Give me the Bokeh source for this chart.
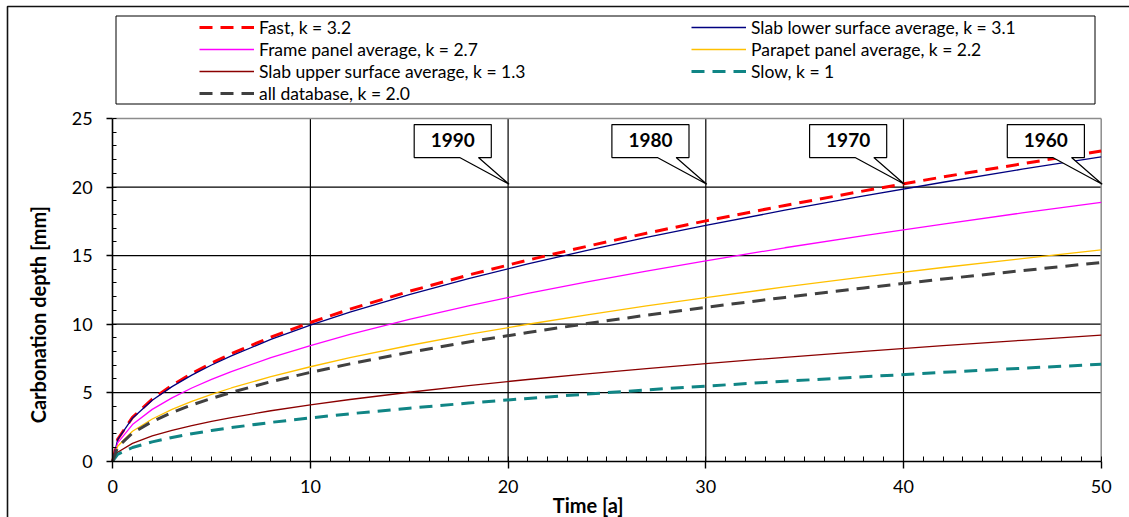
import math
from bokeh.plotting import figure
from bokeh.models import (Range1d, FixedTicker, Legend, LegendItem, BoxAnnotation, Label)
from bokeh.core.properties import value
from bokeh.embed import file_html
from bokeh.resources import INLINE

# ---------------- data ----------------
time_a = [0, 0.25, 1, 2, 3, 4, 5, 6, 8, 10, 12, 15, 18, 21, 24, 27, 30, 34, 38, 42, 46, 50]

fast = [0, 1.6, 3.2, 4.53, 5.54, 6.4, 7.16, 7.84, 9.05, 10.12, 11.09, 12.39, 13.58, 14.67,
        15.68, 16.63, 17.53, 18.66, 19.72, 20.74, 21.70, 22.63]
slab_lower = [0, 1.57, 3.14, 4.44, 5.44, 6.28, 7.02, 7.69, 8.88, 9.93, 10.88, 12.16, 13.32,
              14.39, 15.38, 16.32, 17.2, 18.31, 19.35, 20.35, 21.3, 22.2]
frame_panel = [0, 1.34, 2.67, 3.78, 4.62, 5.34, 5.97, 6.54, 7.55, 8.44, 9.25, 10.34, 11.33,
               12.24, 13.08, 13.87, 14.62, 15.57, 16.46, 17.3, 18.11, 18.88]
parapet_panel = [0, 1.09, 2.18, 3.08, 3.78, 4.36, 4.87, 5.34, 6.17, 6.89, 7.55, 8.44, 9.25,
                 9.99, 10.68, 11.33, 11.94, 12.71, 13.44, 14.13, 14.78, 15.41]
slab_upper = [0, 0.65, 1.3, 1.84, 2.25, 2.6, 2.91, 3.18, 3.68, 4.11, 4.5, 5.03, 5.52, 5.96,
              6.37, 6.75, 7.12, 7.58, 8.01, 8.43, 8.82, 9.19]
slow = [0, 0.5, 1.0, 1.41, 1.73, 2.0, 2.24, 2.45, 2.83, 3.16, 3.46, 3.87, 4.24, 4.58, 4.9,
        5.2, 5.48, 5.83, 6.16, 6.48, 6.78, 7.07]
all_database = [0, 1.03, 2.05, 2.9, 3.55, 4.1, 4.58, 5.02, 5.8, 6.48, 7.1, 7.94, 8.7, 9.39,
                10.04, 10.65, 11.23, 11.95, 12.64, 13.29, 13.9, 14.5]

series_labels = ["Fast, k = 3.2", "Slab lower surface average, k = 3.1",
                 "Frame panel average, k = 2.7", "Parapet panel average, k = 2.2",
                 "Slab upper surface average, k = 1.3", "Slow, k = 1",
                 "all database, k = 2.0"]

callout_years = ["1990", "1980", "1970", "1960"]
callout_time = [20, 30, 40, 50]
callout_depth = [20, 20, 20, 20]

x_ticks = [0, 10, 20, 30, 40, 50]
y_ticks = [0, 5, 10, 15, 20, 25]
x_label = "Time [a]"
y_label = "Carbonation depth [mm]"

# ---------------- figure: frame covers the whole canvas ----------------
FONT = "Lato"
W, H = 1129, 517
PX_X0, PX_X50 = 112.2, 1100.7      # pixel position of t = 0 and t = 50
PX_Y0, PX_Y25 = 460.7, 118.0       # pixel position of depth = 0 and 25
sx = (PX_X50 - PX_X0) / 50.0
sy = (PX_Y0 - PX_Y25) / 25.0
x_start = -PX_X0 / sx
y_start = -(H - PX_Y0) / sy

p = figure(width=W, height=H, output_backend="svg", toolbar_location=None, title=None,
           x_range=Range1d(x_start, x_start + W / sx), y_range=Range1d(y_start, y_start + H / sy),
           min_border_left=0, min_border_right=0, min_border_top=0, min_border_bottom=0)
p.background_fill_color = "white"
p.border_fill_color = "white"
p.outline_line_color = None
p.xgrid.visible = False
p.ygrid.visible = False

p.xaxis.fixed_location = 0
p.yaxis.fixed_location = 0
p.xaxis.bounds = (x_ticks[0], x_ticks[-1])
p.yaxis.bounds = (y_ticks[0], y_ticks[-1])
p.xaxis.ticker = FixedTicker(ticks=x_ticks, minor_ticks=list(range(0, 51)))
p.yaxis.ticker = FixedTicker(ticks=y_ticks, minor_ticks=list(range(0, 26)))

# grid lines (inside the plotting area only) and the grey plot-area border
gx = x_ticks[1:-1]
gy = y_ticks[1:-1]
p.segment(x0=gx, y0=[y_ticks[0]] * len(gx), x1=gx, y1=[y_ticks[-1]] * len(gx),
          line_color="black", line_width=1.2)
p.segment(x0=[x_ticks[0]] * len(gy), y0=gy, x1=[x_ticks[-1]] * len(gy), y1=gy,
          line_color="black", line_width=1.2)
p.segment(x0=[x_ticks[0], x_ticks[-1]], y0=[y_ticks[-1], y_ticks[0]],
          x1=[x_ticks[-1], x_ticks[-1]], y1=[y_ticks[-1], y_ticks[-1]],
          line_color="#8c8c8c", line_width=1.5)

for ax in (p.xaxis, p.yaxis):
    ax.axis_line_color = "black"
    ax.axis_line_width = 1.6
    ax.major_tick_line_color = "black"
    ax.major_tick_line_width = 1.4
    ax.minor_tick_line_color = "black"
    ax.minor_tick_line_width = 1
    ax.major_tick_in = 0
    ax.minor_tick_out = 0
    ax.major_label_text_font = FONT
    ax.major_label_text_font_size = "18px"
    ax.major_label_text_color = "black"
p.xaxis.major_tick_out = 7
p.xaxis.minor_tick_in = 5
p.xaxis.major_label_standoff = 12
p.yaxis.major_tick_out = 6
p.yaxis.minor_tick_in = 4
p.yaxis.major_label_standoff = 14

# ---------------- curves ----------------
styles = [
    (fast, "#FF0000", 3, "13 8"),
    (slab_lower, "#000080", 1.3, "solid"),
    (frame_panel, "#FF00FF", 1.3, "solid"),
    (parapet_panel, "#FFC000", 1.3, "solid"),
    (slab_upper, "#8B0000", 1.3, "solid"),
    (slow, "#108585", 3, "13 8"),
    (all_database, "#404040", 3, "13 8"),
]
renderers = []
for ys, color, w, dash in styles:
    r = p.line(time_a, ys, line_color=color, line_width=w, line_dash=dash)
    renderers.append(r)

# ---------------- callouts ----------------
xs, ys_ = [], []
tx, ty = [], []
for t, d in zip(callout_time, callout_depth):
    tip_x, tip_y = t + 0.05, d + 0.2
    x0, x1 = t - 4.75, t - 0.85
    y0, y1 = 22.15, 24.56
    b0, b1 = t - 2.45, t - 1.5
    xs.append([x0, x1, x1, b1, tip_x, b0, x0])
    ys_.append([y1, y1, y0, y0, tip_y, y0, y0])
    tx.append((x0 + x1) / 2)
    ty.append((y0 + y1) / 2 + 0.05)
p.patches(xs, ys_, fill_color="white", line_color="black", line_width=1.2)
p.text(tx, ty, text=callout_years, text_font=value(FONT), text_font_style="bold",
       text_font_size="19px", text_align="center", text_baseline="middle", text_color="black")

# ---------------- axis titles ----------------
p.add_layout(Label(x=-3.78, y=10.69, text=y_label, angle=math.pi / 2,
                   text_font=FONT, text_font_style="bold", text_font_size="20px",
                   text_align="center", text_baseline="middle", text_color="black"))
p.add_layout(Label(x=24.05, y=-3.23, text=x_label,
                   text_font=FONT, text_font_style="bold", text_font_size="20px",
                   text_align="center", text_baseline="middle", text_color="black"))

# ---------------- legend ----------------
def make_legend(idx, loc):
    return Legend(items=[LegendItem(label=series_labels[i], renderers=[renderers[i]]) for i in idx],
                  location=loc, orientation="vertical", padding=0, margin=0, spacing=0,
                  glyph_width=55, glyph_height=22, label_height=22, label_standoff=5,
                  label_text_font=FONT, label_text_font_size="17.5px", label_text_color="black",
                  border_line_color=None, background_fill_alpha=0)

p.add_layout(make_legend([0, 2, 4, 6], (199, H - 104)))
p.add_layout(make_legend([1, 3, 5], (691, H - 82)))

p.add_layout(BoxAnnotation(left=115.5, right=1094.5, top=15.5, bottom=103.5,
                           left_units="canvas", right_units="canvas",
                           top_units="canvas", bottom_units="canvas",
                           fill_alpha=0, line_color="black", line_alpha=1, line_width=1))
p.add_layout(BoxAnnotation(left=7, right=1150, top=6, bottom=540,
                           left_units="canvas", right_units="canvas",
                           top_units="canvas", bottom_units="canvas",
                           fill_alpha=0, line_color="#111111", line_alpha=1, line_width=1.6))

open("out.html", "w").write(file_html(p, INLINE))
